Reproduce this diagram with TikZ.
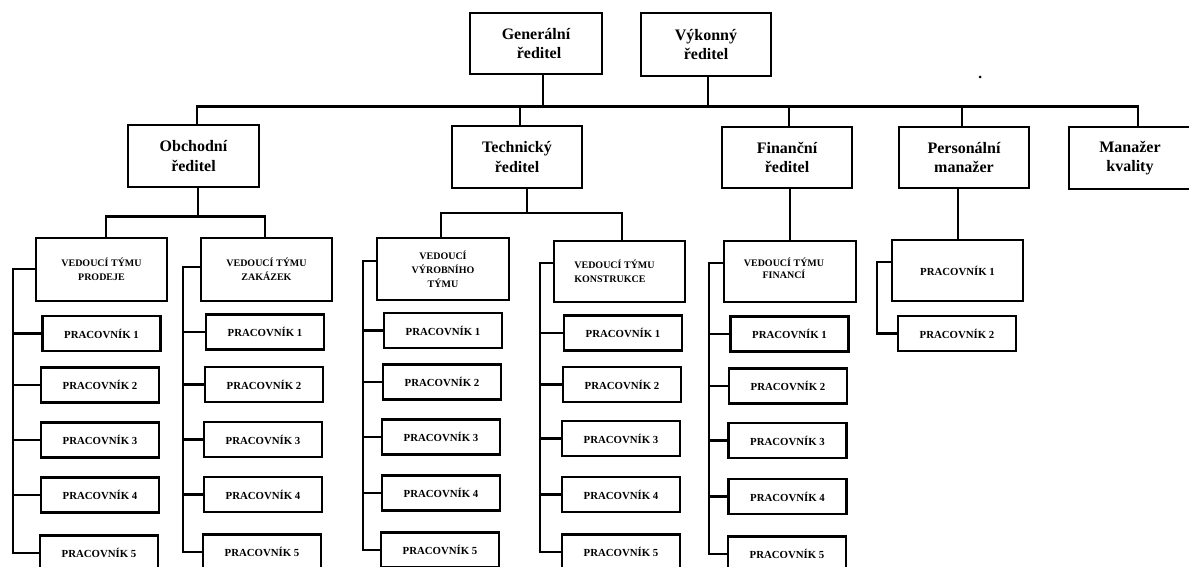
\documentclass[tikz,border=0pt]{standalone}
\usepackage{fontspec}
\setmainfont{Liberation Serif}
\usetikzlibrary{calc}
\tikzset{
  lw/.style={line width=2.6pt},
  bigbox/.style={draw, lw, inner sep=0pt, align=center,
    font=\bfseries\fontsize{16}{19.5}\selectfont},
  leadbox/.style={draw, lw, inner sep=0pt, align=center,
    font=\bfseries\fontsize{10}{14}\selectfont},
  workbox/.style={draw, lw, inner sep=0pt, align=center,
    minimum width=118pt, minimum height=35pt,
    font=\bfseries\fontsize{10.8}{13}\selectfont},
  conn/.style={lw, line cap=rect}
}
\begin{document}
\begin{tikzpicture}[x=1pt, y=-1pt]
\useasboundingbox (0,0) rectangle (1189,567);
\clip (0,0) rectangle (1189,567);

% level 1
\node[bigbox, minimum width=132pt, minimum height=61pt] (gen) at (536,43.5) {Generální\\[-1pt]\hspace*{6pt}ředitel};
\node[bigbox, minimum width=130pt, minimum height=63pt] (vyk) at (706,44.5) {Výkonný\\ředitel};

% level 2
\node[bigbox, minimum width=131pt, minimum height=62pt] (obch) at (193.5,156) {Obchodní\\ředitel};
\node[bigbox, minimum width=130pt, minimum height=62pt] (tech) at (517,157) {Technický\\ředitel};
\node[bigbox, minimum width=130pt, minimum height=61pt] (fin) at (787,157.5) {Finanční\\ředitel};
\node[bigbox, minimum width=130pt, minimum height=61pt] (pers) at (964,157.5) {Personální\\manažer};
\node[bigbox, minimum width=130pt, minimum height=62pt] (kval) at (1134,158) {\hspace*{-8pt}Manažer\\[-1pt]\hspace*{-8pt}kvality};

\fill (980,77) circle (1.5pt);

% level 3 leaders
\node[leadbox, minimum width=131pt, minimum height=63pt] (vp) at (101.5,269.5) {VEDOUCÍ TÝMU\\PRODEJE};
\node[leadbox, minimum width=131pt, minimum height=63pt] (vz) at (266.5,269.5) {VEDOUCÍ TÝMU\\ZAKÁZEK};
\node[leadbox, minimum width=132pt, minimum height=62pt] (vv) at (443,269) {VEDOUCÍ\\VÝROBNÍHO\\TÝMU};
\node[leadbox, minimum width=131pt, minimum height=61pt, align=left] (vk) at (619.5,271.5) {VEDOUCÍ TÝMU\hspace*{10pt}\\KONSTRUKCE};
\node[leadbox, minimum width=132pt, minimum height=61pt] (vf) at (790,271.5) {\raisebox{6pt}{\shortstack{VEDOUCÍ TÝMU\\FINANCÍ}}\hspace*{12pt}};
\node[workbox, minimum width=131pt, minimum height=61pt] (pp1) at (957.5,270.5) {PRACOVNÍK 1};
\node[workbox] (pp2) at (957,333.5) {PRACOVNÍK 2};

% workers, column A (prodeje)
\node[workbox] (a1) at (101.5,333.5) {PRACOVNÍK 1};
\node[workbox] (a2) at (100,385) {PRACOVNÍK 2};
\node[workbox] (a3) at (100,440) {PRACOVNÍK 3};
\node[workbox] (a4) at (100,495) {PRACOVNÍK 4};
\node[workbox] (a5) at (99,553) {PRACOVNÍK 5};
% column B (zakázek)
\node[workbox] (b1) at (265,332) {PRACOVNÍK 1};
\node[workbox] (b2) at (264,384.5) {PRACOVNÍK 2};
\node[workbox] (b3) at (263,439.5) {PRACOVNÍK 3};
\node[workbox] (b4) at (263,494.5) {PRACOVNÍK 4};
\node[workbox] (b5) at (262,552) {PRACOVNÍK 5};
% column C (výrobní)
\node[workbox] (c1) at (443,330.5) {PRACOVNÍK 1};
\node[workbox] (c2) at (442,382) {PRACOVNÍK 2};
\node[workbox] (c3) at (441,437) {PRACOVNÍK 3};
\node[workbox] (c4) at (441,493) {PRACOVNÍK 4};
\node[workbox] (c5) at (440,550) {PRACOVNÍK 5};
% column D (konstrukce)
\node[workbox] (d1) at (623,333) {PRACOVNÍK 1};
\node[workbox] (d2) at (622,384.5) {PRACOVNÍK 2};
\node[workbox] (d3) at (621,438.5) {PRACOVNÍK 3};
\node[workbox] (d4) at (621,494.5) {PRACOVNÍK 4};
\node[workbox] (d5) at (621,552) {PRACOVNÍK 5};
% column E (financí)
\node[workbox] (e1) at (789.5,334) {PRACOVNÍK 1};
\node[workbox] (e2) at (788,386) {PRACOVNÍK 2};
\node[workbox] (e3) at (787.5,440.5) {PRACOVNÍK 3};
\node[workbox] (e4) at (787.5,496.5) {PRACOVNÍK 4};
\node[workbox] (e5) at (787,554) {PRACOVNÍK 5};

% top bus
\coordinate (bgen) at (543,106.5);
\coordinate (bvyk) at (708,106.5);
\coordinate (bL) at (197,106.5);
\coordinate (bR) at (1138,106.5);
\draw[conn] (bL) -- (bR);
\draw[conn] (bgen |- gen.south) -- (bgen);
\draw[conn] (bvyk |- vyk.south) -- (bvyk);
\draw[conn] (bL) -- (bL |- obch.north);
\draw[conn] (520,106.5) coordinate (btech) -- (btech |- tech.north);
\draw[conn] (789,106.5) coordinate (bfin) -- (bfin |- fin.north);
\draw[conn] (962,106.5) coordinate (bpers) -- (bpers |- pers.north);
\draw[conn] (bR) -- (bR |- kval.north);

% obchodní to leaders
\coordinate (oj) at (198,216.5);
\draw[conn] (oj |- obch.south) -- (oj);
\draw[conn] (106,216.5) coordinate (ojl) -- (265,216.5) coordinate (ojr);
\draw[conn] (ojl) -- (ojl |- vp.north);
\draw[conn] (ojr) -- (ojr |- vz.north);

% technický to leaders
\coordinate (tj) at (527,213);
\draw[conn] (tj |- tech.south) -- (tj);
\draw[conn] (441,213) coordinate (tjl) -- (622,213) coordinate (tjr);
\draw[conn] (tjl) -- (tjl |- vv.north);
\draw[conn] (tjr) -- (tjr |- vk.north);

% finanční, personální
\draw[conn] (790,188) coordinate (fj) -- (fj |- vf.north);
\draw[conn] (958,188) coordinate (pj) -- (pj |- pp1.north);

% spines
\coordinate (sa) at (13,269);
\coordinate (sb) at (183,267);
\coordinate (sc) at (363,261);
\coordinate (sd) at (540,263);
\coordinate (se) at (709,263);
\coordinate (sp) at (877,262);
\draw[conn] (vp.west |- sa) -- (sa) |- (a5.west);
\draw[conn] (vz.west |- sb) -- (sb) |- (b5.west);
\draw[conn] (vv.west |- sc) -- (sc) |- (c5.west);
\draw[conn] (vk.west |- sd) -- (sd) |- (d5.west);
\draw[conn] (vf.west |- se) -- (se) |- (e5.west);
\draw[conn] (pp1.west |- sp) -- (sp) |- (pp2.west);
\foreach \c/\s in {a/sa, b/sb, c/sc, d/sd, e/se}{
  \foreach \i in {1,2,3,4}{
    \draw[conn] (\s |- \c\i.west) -- (\c\i.west);
  }
}
\end{tikzpicture}
\end{document}
